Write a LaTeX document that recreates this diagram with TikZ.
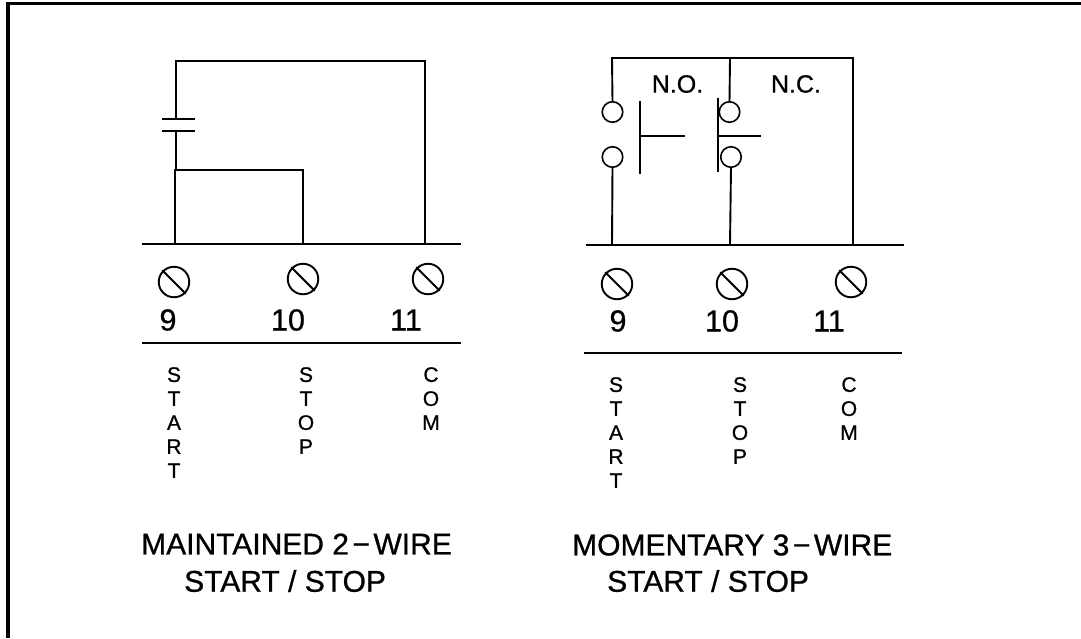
\documentclass[tikz,border=0pt]{standalone}
\usepackage{fontspec}
\setmainfont{Liberation Sans}
\newfontfamily\heavyfont[FakeBold=0.8]{Liberation Sans}
\usetikzlibrary{positioning, calc}
\tikzset{
  wire/.style={line width=1.9pt},
  screw/.style={circle, draw, line width=1.9pt, minimum size=30.5pt, inner sep=0pt, outer sep=0pt},
  contact/.style={circle, draw, line width=1.6pt, minimum size=20.5pt, inner sep=0pt, outer sep=0pt},
  termnum/.style={font=\heavyfont\fontsize{30.5}{32}\selectfont, inner sep=0pt},
  vlabel/.style={font=\heavyfont\fontsize{21}{24}\selectfont, align=center, anchor=north, inner sep=0pt},
  caption/.style={font=\heavyfont\fontsize{30}{32}\selectfont, anchor=west, inner sep=0pt},
  swlabel/.style={font=\heavyfont\fontsize{25}{28}\selectfont, inner sep=0pt}
}

\begin{document}
\begin{tikzpicture}[x=1pt, y=-1pt]
  \useasboundingbox (0,0) rectangle (1081,638);
  % frame
  \coordinate (framebl) at (8,638);
  \coordinate (frametl) at (8,3.5);
  \coordinate (frametr) at (1081,3.5);
  \draw[line width=3.5pt] (framebl) -- (frametl) -- (frametr);

  % left: maintained 2-wire
  \coordinate (ltopa) at (176,61);
  \coordinate (ltopc) at (425,61);
  \coordinate (lcapa) at (176,119);
  \coordinate (lcapb) at (176,131);
  \coordinate (ljoin) at (176,170);
  \coordinate (lboxa) at (175,170);
  \coordinate (lboxb) at (303,170);
  \coordinate (lbusl) at (142,244);
  \coordinate (lbusr) at (461,244);
  \coordinate (lbusa) at (175,244);
  \coordinate (lbusb) at (303,244);
  \coordinate (lbusc) at (425,244);
  \coordinate (lsepl) at (142,343);
  \coordinate (lsepr) at (461,343);
  \draw[wire] (lbusl) -- (lbusr);
  \draw[wire] (lsepl) -- (lsepr);
  \draw[wire] (lcapa) -- (ltopa) -- (ltopc) -- (lbusc);
  \draw[wire] (lcapb) -- (ljoin);
  \draw[wire] (lbusa) -- (lboxa) -- (lboxb) -- (lbusb);
  \draw[wire] ([xshift=-14]lcapa) -- ([xshift=19]lcapa);
  \draw[wire] ([xshift=-14]lcapb) -- ([xshift=19]lcapb);

  \node[screw] (lscrewa) at (174,282) {};
  \node[screw] (lscrewb) at (303,279) {};
  \node[screw] (lscrewc) at (428,279) {};
  \foreach \s in {lscrewa, lscrewb, lscrewc}
    \draw[wire] ($(\s.north west)+(-1,-1)$) -- ($(\s.south east)+(1,1)$);

  \node[termnum] (lnuma) at (168,320) {9};
  \node[termnum] (lnumb) at (288,320) {10};
  \node[termnum] (lnumc) at (406,320) {11};
  \node[vlabel] (lstart) at (174,367) {S\\T\\A\\R\\T};
  \node[vlabel] (lstop) at (306,367) {S\\T\\O\\P};
  \node[vlabel] (lcom) at (431,367) {C\\O\\M};
  \node[caption] (lcapone) at (141,544) {MAINTAINED 2\kern3.5pt−\kern3.5ptWIRE};
  \node[caption] (lcaptwo) at (184,581) {START / STOP};

  % right: momentary 3-wire
  \coordinate (rtopa) at (612,58);
  \coordinate (rtopb) at (730,58);
  \coordinate (rtopc) at (853,58);
  \coordinate (rbusl) at (586,245);
  \coordinate (rbusr) at (904,245);
  \coordinate (rbusa) at (612,245);
  \coordinate (rbusb) at (730,245);
  \coordinate (rbusc) at (853,245);
  \coordinate (rsepl) at (584,353);
  \coordinate (rsepr) at (902,353);
  \draw[wire] (rbusl) -- (rbusr);
  \draw[wire] (rsepl) -- (rsepr);
  \node[contact] (noa) at (612.5,112) {};
  \node[contact] (nob) at (612.5,157) {};
  \node[contact] (nca) at (729.5,112) {};
  \node[contact] (ncb) at (731,157) {};
  \draw[wire] (noa.north) -- (rtopa) -- (rtopc) -- (rbusc);
  \draw[wire] (nca.north) -- (rtopb);
  \draw[wire] (nob.south) -- (rbusa);
  \draw[wire] (ncb.south) -- (rbusb);

  % push buttons
  \coordinate (nobart) at (640,101);
  \coordinate (nobarb) at (640,174);
  \coordinate (nostema) at (640,136);
  \coordinate (nostemb) at (685,136);
  \coordinate (ncbart) at (718,98);
  \coordinate (ncbarb) at (718,172);
  \coordinate (ncstema) at (718,136);
  \coordinate (ncstemb) at (761,136);
  \draw[wire] (nobart) -- (nobarb);
  \draw[line width=1.3pt] (nostema) -- (nostemb);
  \draw[wire] (ncbart) -- (ncbarb);
  \draw[line width=1.3pt] (ncstema) -- (ncstemb);
  \node[swlabel] (nolabel) at (677.5,84) {N.O.};
  \node[swlabel] (nclabel) at (796,84) {N.C.};

  \node[screw] (rscrewa) at (617,284) {};
  \node[screw] (rscrewb) at (732,284) {};
  \node[screw] (rscrewc) at (851,282) {};
  \foreach \s in {rscrewa, rscrewb, rscrewc}
    \draw[wire] ($(\s.north west)+(-1,-1)$) -- ($(\s.south east)+(1,1)$);

  \node[termnum] (rnuma) at (618,321) {9};
  \node[termnum] (rnumb) at (722,321) {10};
  \node[termnum] (rnumc) at (829,321) {11};
  \node[vlabel] (rstart) at (616,377) {S\\T\\A\\R\\T};
  \node[vlabel] (rstop) at (740,377) {S\\T\\O\\P};
  \node[vlabel] (rcom) at (849,377) {C\\O\\M};
  \node[caption] (rcapone) at (572,545) {MOMENTARY 3\kern3.5pt−\kern3.5ptWIRE};
  \node[caption] (rcaptwo) at (607,581) {START / STOP};
\end{tikzpicture}
\end{document}
